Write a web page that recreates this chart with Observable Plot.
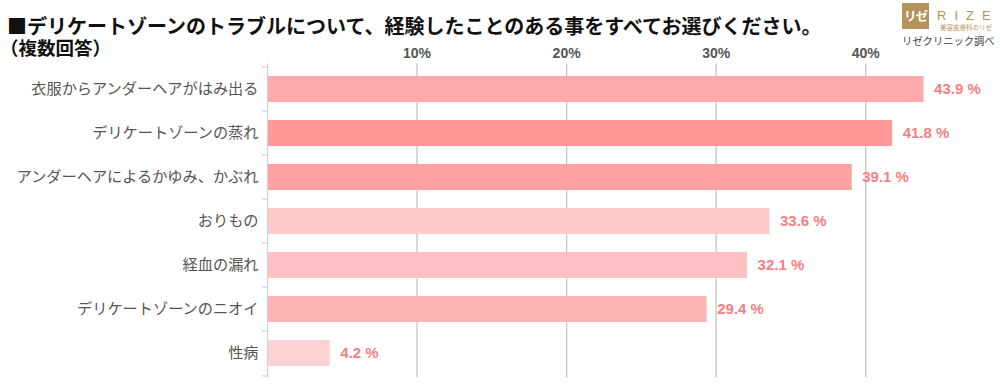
<!DOCTYPE html>
<html>
<head>
<meta charset="utf-8">
<script src="https://cdn.jsdelivr.net/npm/d3@7"></script>
<script src="https://cdn.jsdelivr.net/npm/@observablehq/plot@0.6"></script>
<style>
  html, body { margin: 0; padding: 0; background: #fff; }
  #wrap { position: relative; width: 1000px; height: 388px; overflow: hidden; font-family: "Noto Sans CJK JP", sans-serif; }
  #title { position: absolute; left: 7px; top: 16px; font-size: 20px; font-weight: bold; color: #111; white-space: nowrap; line-height: 20px; height: 20px; }
  #subtitle { position: absolute; left: 0px; top: 38px; font-size: 18.5px; font-weight: bold; color: #111; white-space: nowrap; line-height: 18px; height: 18px; }
  #logo { position: absolute; left: 902px; top: 3px; width: 98px; height: 50px; }
  #logo .box { position: absolute; left: 0; top: 0; width: 27px; height: 26px; background: #b4935a; color: #fff; font-size: 12.5px; font-weight: bold; text-align: center; line-height: 26px; letter-spacing: -1px; overflow: hidden; }
  #logo .rize { position: absolute; left: 35px; top: 6px; font-family: "Liberation Sans", Arial, sans-serif; font-size: 13px; color: #b4935a; letter-spacing: 8px; line-height: 1; }
  #logo .sub { position: absolute; left: 38px; top: 21px; font-size: 6.5px; color: #b4935a; white-space: nowrap; line-height: 1; }
  #logo .src { position: absolute; left: 0px; top: 33px; font-size: 10.3px; color: #444; white-space: nowrap; line-height: 1; }
  #chart { position: absolute; left: 0; top: 0; }
</style>
</head>
<body>
<div id="wrap">
  <div id="chart"></div>
  <div id="title">■デリケートゾーンのトラブルについて、経験したことのある事をすべてお選びください。</div>
  <div id="subtitle">（複数回答）</div>
  <div id="logo">
    <div class="box">リゼ</div>
    <div class="rize">RIZE</div>
    <div class="sub">美容皮膚科のリゼ</div>
    <div class="src">リゼクリニック調べ</div>
  </div>
</div>
<script>
const categories = [
  "衣服からアンダーヘアがはみ出る",
  "デリケートゾーンの蒸れ",
  "アンダーヘアによるかゆみ、かぶれ",
  "おりもの",
  "経血の漏れ",
  "デリケートゾーンのニオイ",
  "性病"
];
const values = [43.9, 41.8, 39.1, 33.6, 32.1, 29.4, 4.2];
const barColors = ["#ffaaaa", "#ff9999", "#ffa1a1", "#ffcaca", "#ffc1c1", "#ffb4b4", "#ffd3d3"];
const xTicks = [10, 20, 30, 40];

const data = categories.map((c, i) => ({category: c, value: values[i], color: barColors[i]}));
const step = 44.8;

const plot = Plot.plot({
  width: 1000,
  height: 388,
  marginTop: 63.6,
  marginBottom: 10.8,
  marginLeft: 267,
  marginRight: 60,
  style: {fontFamily: "'Noto Sans CJK JP', sans-serif", background: "transparent"},
  x: {domain: [0, 45]},
  y: {domain: categories, paddingInner: 0.42, paddingOuter: 0.21},
  marks: [
    Plot.gridX(xTicks, {stroke: "#c4c4c4", strokeOpacity: 1, strokeWidth: 1.3}),
    Plot.barX(data, {x: "value", y: "category", fill: "color"}),
    Plot.ruleX([0], {stroke: "#c9d5e6", strokeWidth: 1.3}),
    Plot.ruleY(categories, {y: d => d, x1: -0.33, x2: 0, dy: -step / 2, stroke: "#c9d5e6", strokeWidth: 1.3}),
    Plot.ruleY(categories.slice(-1), {y: d => d, x1: -0.33, x2: 0, dy: step / 2, stroke: "#c9d5e6", strokeWidth: 1.3}),
    Plot.axisX(xTicks, {anchor: "top", tickSize: 0, tickPadding: 6, tickFormat: d => d + "%", fontSize: 14, fontWeight: "bold", fontFamily: "'Liberation Sans', Arial, sans-serif", color: "#555", label: null}),
    Plot.axisY({tickSize: 0, tickPadding: 9, fontSize: 15.2, color: "#555", label: null}),
    Plot.text(data, {x: "value", y: "category", text: d => d.value.toFixed(1) + " %", textAnchor: "start", dx: 10, fill: "#f58080", fontSize: 15, fontWeight: "bold", fontFamily: "'Liberation Sans', Arial, sans-serif"})
  ]
});
document.getElementById("chart").appendChild(plot);
</script>
</body>
</html>
